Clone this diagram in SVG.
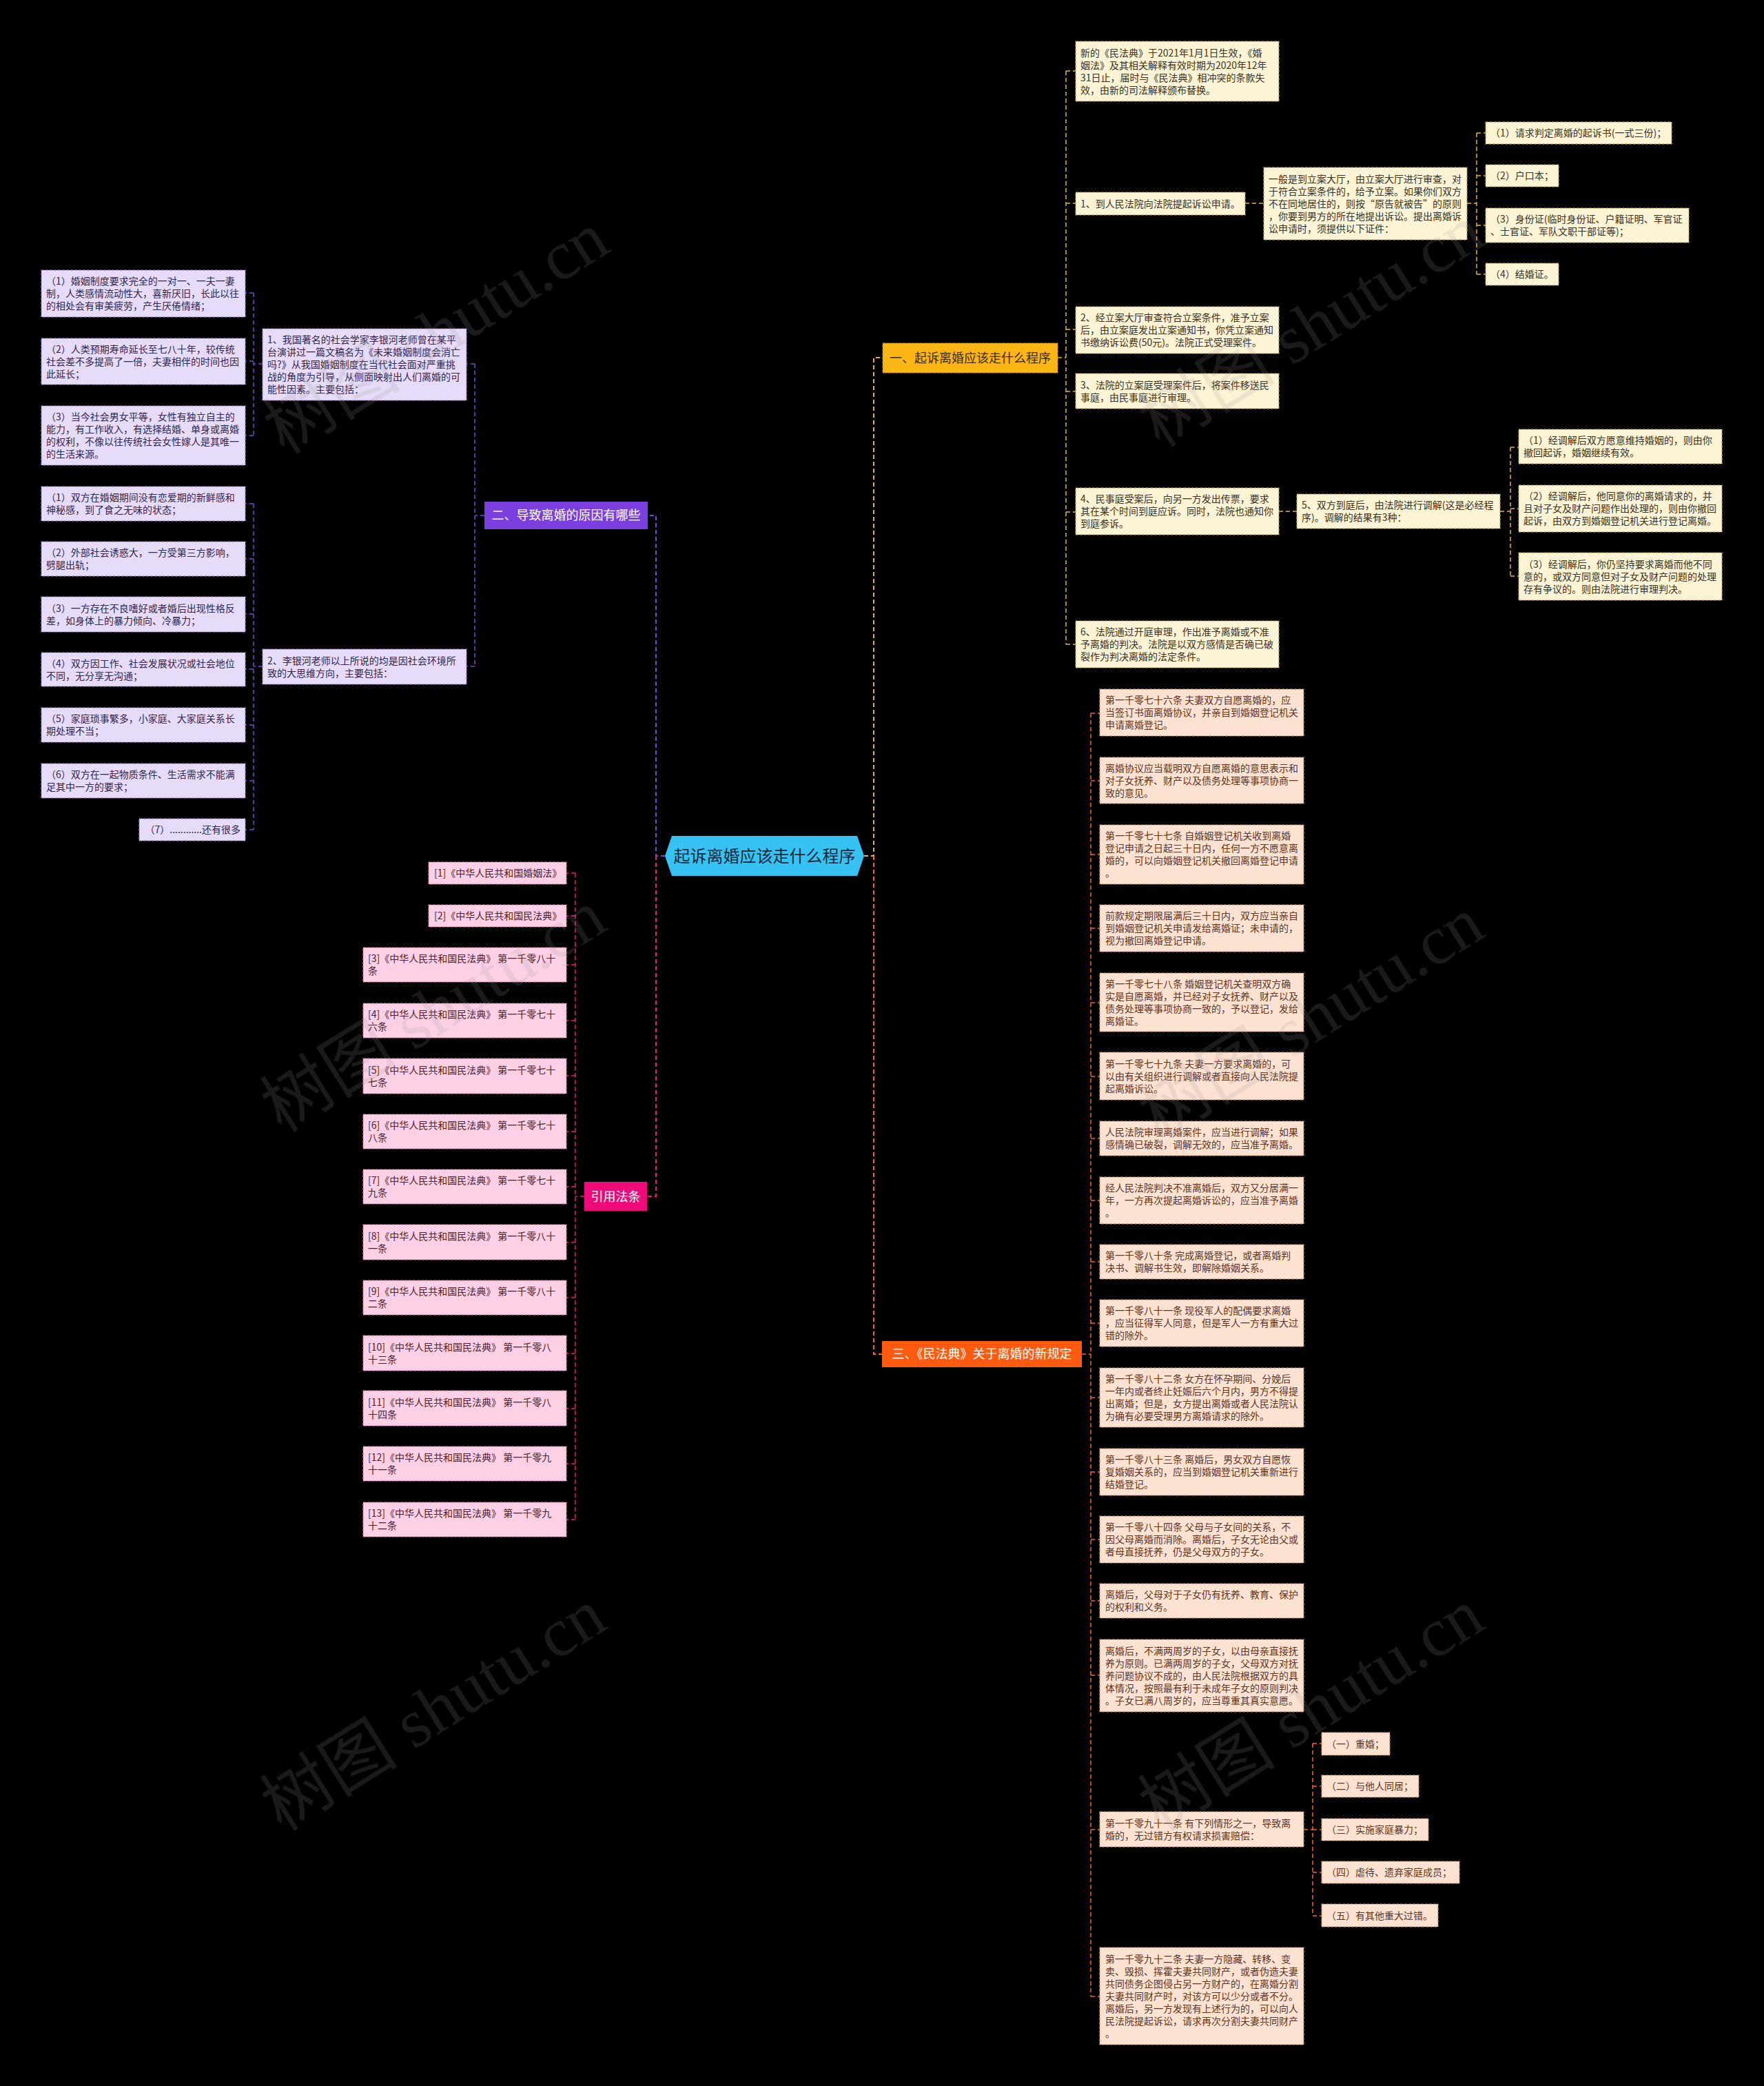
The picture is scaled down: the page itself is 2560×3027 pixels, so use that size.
<svg xmlns="http://www.w3.org/2000/svg" width="2560" height="3027" viewBox="0 0 2560 3027">
<style>
text{font-family:"Noto Sans CJK SC","Noto Sans",sans-serif}
.t{font-size:14px}
.y rect{fill:#fdf3d5;stroke:#b59c5c;stroke-width:1.2;stroke-dasharray:4 2}
.y text{fill:#3a3222}
.p rect{fill:#e6dbf8;stroke:#9a83c8;stroke-width:1.2;stroke-dasharray:4 2}
.p text{fill:#33264f}
.o rect{fill:#fde2d2;stroke:#c98a6a;stroke-width:1.2;stroke-dasharray:4 2}
.o text{fill:#5e3524}
.k rect{fill:#fdd0e5;stroke:#d47aa2;stroke-width:1.2;stroke-dasharray:4 2}
.k text{fill:#4a1f35}
.h text{font-size:18px}
.cn path{fill:none;stroke-width:2;stroke-dasharray:6 4}
.cy{stroke:#e8b53a}
.cp{stroke:#7b46d8}
.co{stroke:#ff6420}
.ck{stroke:#f0167e}
.cc{stroke-width:1.5 !important}
.wm text{font-family:"Liberation Serif","Noto Sans CJK SC",serif;font-size:100px;fill:#9a9a9a;opacity:0.17}
</style>
<rect x="0" y="0" width="2560" height="3027" fill="#000"/>

<g class="cn">
<path class="cy" d="M1254 1242H1268V519H1281"/>
<path class="co" d="M1268 1242V1965H1280"/>
<path class="cp" d="M965 1242H952V748H940"/>
<path class="ck" d="M952 1242V1736H939"/>
<path class="cy cc" d="M1535 519H1547M1547 103V935M1547 103H1561M1547 295H1561M1547 478H1561M1547 568H1561M1547 743H1561M1547 935H1561"/>
<path class="cy cc" d="M1807 295H1834M2129 295H2143M2143 193V398M2143 193H2156M2143 255H2156M2143 327H2156M2143 398H2156"/>
<path class="cy cc" d="M1856 742H1882M2177 742H2192M2192 649V836M2192 649H2204M2192 738H2204M2192 836H2204"/>
<path class="cp cc" d="M703 748H689M689 528V967M689 528H677M689 967H677"/>
<path class="cp cc" d="M381 528H368M368 425V632M368 425H356M368 524H356M368 632H356"/>
<path class="cp cc" d="M381 967H368M368 731V1204M368 731H356M368 811H356M368 891H356M368 971H356M368 1052H356M368 1133H356M368 1204H356"/>
<path class="ck cc" d="M848 1736H835M835 1267V2205M835 1267H822M835 1329H822M835 1400H822M835 1481H822M835 1561H822M835 1642H822M835 1722H822M835 1803H822M835 1883H822M835 1964H822M835 2044H822M835 2124H822M835 2205H822"/>
<path class="co cc" d="M1570 1965H1583M1583 1035V2897M1583 1035H1596M1583 1133H1596M1583 1240H1596M1583 1347H1596M1583 1455H1596M1583 1562H1596M1583 1652H1596M1583 1742H1596M1583 1831H1596M1583 1920H1596M1583 2028H1596M1583 2136H1596M1583 2234H1596M1583 2323H1596M1583 2431H1596M1583 2655H1596M1583 2897H1596"/>
<path class="co cc" d="M1892 2655H1905M1905 2530V2780M1905 2530H1918M1905 2592H1918M1905 2655H1918M1905 2717H1918M1905 2780H1918"/>
</g>

<g id="center">
<polygon points="965,1242 975,1213 1244,1213 1254,1242 1244,1271 975,1271" fill="#36c3f3"/>
<text x="1109.5" y="1250.5" font-size="24" text-anchor="middle" fill="#15283a">起诉离婚应该走什么程序</text>
</g>

<g id="b1" class="h"><rect x="1281" y="498" width="254" height="43" fill="#fbb616" stroke="#c98c00" stroke-dasharray="4 2"/><text x="1408" y="525.5" text-anchor="middle" fill="#3d2a00">一、起诉离婚应该走什么程序</text></g>
<g id="b2" class="h"><rect x="703" y="728" width="237" height="40" fill="#7b3fe0"/><text x="821.5" y="754" text-anchor="middle" fill="#fff">二、导致离婚的原因有哪些</text></g>
<g id="b3" class="h"><rect x="1280" y="1946" width="290" height="38" fill="#ff5b10"/><text x="1425" y="1971" text-anchor="middle" fill="#fff">三、《民法典》关于离婚的新规定</text></g>
<g id="b4" class="h"><rect x="848" y="1715" width="91" height="42" fill="#ef0a7a"/><text x="893.5" y="1742.5" text-anchor="middle" fill="#fff">引用法条</text></g>

<g class="y t">
<g id="a"><rect x="1561" y="60" width="295" height="87"/><text y="81.5"><tspan x="1568">新的《民法典》于2021年1月1日生效，《婚</tspan><tspan x="1568" dy="18">姻法》及其相关解释有效时期为2020年12年</tspan><tspan x="1568" dy="18">31日止，届时与《民法典》相冲突的条款失</tspan><tspan x="1568" dy="18">效，由新的司法解释颁布替换。</tspan></text></g>
<g id="s1"><rect x="1561" y="279" width="246" height="33"/><text x="1568" y="300.5">1、到人民法院向法院提起诉讼申请。</text></g>
<g id="s1a"><rect x="1834" y="243" width="295" height="105"/><text y="264.5"><tspan x="1841">一般是到立案大厅，由立案大厅进行审查，对</tspan><tspan x="1841" dy="18">于符合立案条件的，给予立案。如果你们双方</tspan><tspan x="1841" dy="18">不在同地居住的，则按“原告就被告”的原则</tspan><tspan x="1841" dy="18">，你要到男方的所在地提出诉讼。提出离婚诉</tspan><tspan x="1841" dy="18">讼申请时，须提供以下证件：</tspan></text></g>
<g id="d1"><rect x="2156" y="177" width="270" height="32"/><text x="2163" y="198">（1）请求判定离婚的起诉书(一式三份)；</text></g>
<g id="d2"><rect x="2156" y="239" width="106" height="32"/><text x="2163" y="260">（2）户口本；</text></g>
<g id="d3"><rect x="2156" y="302" width="295" height="50"/><text y="323"><tspan x="2163">（3）身份证(临时身份证、户籍证明、军官证</tspan><tspan x="2163" dy="18">、士官证、军队文职干部证等)；</tspan></text></g>
<g id="d4"><rect x="2156" y="382" width="106" height="32"/><text x="2163" y="403">（4）结婚证。</text></g>
<g id="s2"><rect x="1561" y="445" width="295" height="68"/><text y="466"><tspan x="1568">2、经立案大厅审查符合立案条件，准予立案</tspan><tspan x="1568" dy="18">后，由立案庭发出立案通知书，你凭立案通知</tspan><tspan x="1568" dy="18">书缴纳诉讼费(50元)。法院正式受理案件。</tspan></text></g>
<g id="s3"><rect x="1561" y="542" width="295" height="51"/><text y="563.5"><tspan x="1568">3、法院的立案庭受理案件后，将案件移送民</tspan><tspan x="1568" dy="18">事庭，由民事庭进行审理。</tspan></text></g>
<g id="s4"><rect x="1561" y="708" width="295" height="68"/><text y="729"><tspan x="1568">4、民事庭受案后，向另一方发出传票，要求</tspan><tspan x="1568" dy="18">其在某个时间到庭应诉。同时，法院也通知你</tspan><tspan x="1568" dy="18">到庭参诉。</tspan></text></g>
<g id="s5"><rect x="1882" y="717" width="295" height="50"/><text y="738"><tspan x="1889">5、双方到庭后，由法院进行调解(这是必经程</tspan><tspan x="1889" dy="18">序)。调解的结果有3种：</tspan></text></g>
<g id="i1"><rect x="2204" y="623" width="295" height="50"/><text y="644"><tspan x="2211">（1）经调解后双方愿意维持婚姻的，则由你</tspan><tspan x="2211" dy="18">撤回起诉，婚姻继续有效。</tspan></text></g>
<g id="i2"><rect x="2204" y="704" width="295" height="68"/><text y="725"><tspan x="2211">（2）经调解后，他同意你的离婚请求的，并</tspan><tspan x="2211" dy="18">且对子女及财产问题作出处理的，则由你撤回</tspan><tspan x="2211" dy="18">起诉，由双方到婚姻登记机关进行登记离婚。</tspan></text></g>
<g id="i3"><rect x="2204" y="802" width="295" height="69"/><text y="823.5"><tspan x="2211">（3）经调解后，你仍坚持要求离婚而他不同</tspan><tspan x="2211" dy="18">意的，或双方同意但对子女及财产问题的处理</tspan><tspan x="2211" dy="18">存有争议的。则由法院进行审理判决。</tspan></text></g>
<g id="s6"><rect x="1561" y="901" width="295" height="68"/><text y="922"><tspan x="1568">6、法院通过开庭审理，作出准予离婚或不准</tspan><tspan x="1568" dy="18">予离婚的判决。法院是以双方感情是否确已破</tspan><tspan x="1568" dy="18">裂作为判决离婚的法定条件。</tspan></text></g>
</g>

<g class="p t">
<g id="e1"><rect x="381" y="477" width="296" height="104"/><text y="498"><tspan x="388">1、我国著名的社会学家李银河老师曾在某平</tspan><tspan x="388" dy="18">台演讲过一篇文稿名为《未来婚姻制度会消亡</tspan><tspan x="388" dy="18">吗?》从我国婚姻制度在当代社会面对严重挑</tspan><tspan x="388" dy="18">战的角度为引导，从侧面映射出人们离婚的可</tspan><tspan x="388" dy="18">能性因素。主要包括：</tspan></text></g>
<g id="e2"><rect x="381" y="942" width="296" height="51"/><text y="963.5"><tspan x="388">2、李银河老师以上所说的均是因社会环境所</tspan><tspan x="388" dy="18">致的大思维方向，主要包括：</tspan></text></g>
<g id="p1"><rect x="60" y="392" width="296" height="68"/><text y="413"><tspan x="67">（1）婚姻制度要求完全的一对一、一夫一妻</tspan><tspan x="67" dy="18">制，人类感情流动性大，喜新厌旧，长此以往</tspan><tspan x="67" dy="18">的相处会有审美疲劳，产生厌倦情绪；</tspan></text></g>
<g id="p2"><rect x="60" y="491" width="296" height="67"/><text y="511.5"><tspan x="67">（2）人类预期寿命延长至七八十年，较传统</tspan><tspan x="67" dy="18">社会差不多提高了一倍，夫妻相伴的时间也因</tspan><tspan x="67" dy="18">此延长；</tspan></text></g>
<g id="p3"><rect x="60" y="589" width="296" height="86"/><text y="610"><tspan x="67">（3）当今社会男女平等，女性有独立自主的</tspan><tspan x="67" dy="18">能力，有工作收入，有选择结婚、单身或离婚</tspan><tspan x="67" dy="18">的权利，不像以往传统社会女性嫁人是其唯一</tspan><tspan x="67" dy="18">的生活来源。</tspan></text></g>
<g id="q1"><rect x="60" y="706" width="296" height="50"/><text y="727"><tspan x="67">（1）双方在婚姻期间没有恋爱期的新鲜感和</tspan><tspan x="67" dy="18">神秘感，到了食之无味的状态；</tspan></text></g>
<g id="q2"><rect x="60" y="786" width="296" height="50"/><text y="807"><tspan x="67">（2）外部社会诱惑大，一方受第三方影响，</tspan><tspan x="67" dy="18">劈腿出轨；</tspan></text></g>
<g id="q3"><rect x="60" y="866" width="296" height="51"/><text y="887.5"><tspan x="67">（3）一方存在不良嗜好或者婚后出现性格反</tspan><tspan x="67" dy="18">差，如身体上的暴力倾向、冷暴力；</tspan></text></g>
<g id="q4"><rect x="60" y="947" width="296" height="49"/><text y="967.5"><tspan x="67">（4）双方因工作、社会发展状况或社会地位</tspan><tspan x="67" dy="18">不同，无分享无沟通；</tspan></text></g>
<g id="q5"><rect x="60" y="1027" width="296" height="50"/><text y="1048"><tspan x="67">（5）家庭琐事繁多，小家庭、大家庭关系长</tspan><tspan x="67" dy="18">期处理不当；</tspan></text></g>
<g id="q6"><rect x="60" y="1108" width="296" height="50"/><text y="1129"><tspan x="67">（6）双方在一起物质条件、生活需求不能满</tspan><tspan x="67" dy="18">足其中一方的要求；</tspan></text></g>
<g id="q7"><rect x="202" y="1188" width="154" height="32"/><text x="349" y="1209" text-anchor="end">（7）............还有很多</text></g>
</g>

<g class="k t">
<g id="l1"><rect x="622" y="1251" width="200" height="32"/><text x="630" y="1272">[1]《中华人民共和国婚姻法》</text></g>
<g id="l2"><rect x="622" y="1313" width="200" height="32"/><text x="630" y="1334">[2]《中华人民共和国民法典》</text></g>
<g id="l3"><rect x="527" y="1375" width="295" height="50"/><text y="1396"><tspan x="534">[3]《中华人民共和国民法典》 第一千零八十</tspan><tspan x="534" dy="18">条</tspan></text></g>
<g id="l4"><rect x="527" y="1456" width="295" height="50"/><text y="1477"><tspan x="534">[4]《中华人民共和国民法典》 第一千零七十</tspan><tspan x="534" dy="18">六条</tspan></text></g>
<g id="l5"><rect x="527" y="1536" width="295" height="51"/><text y="1557.5"><tspan x="534">[5]《中华人民共和国民法典》 第一千零七十</tspan><tspan x="534" dy="18">七条</tspan></text></g>
<g id="l6"><rect x="527" y="1617" width="295" height="50"/><text y="1638"><tspan x="534">[6]《中华人民共和国民法典》 第一千零七十</tspan><tspan x="534" dy="18">八条</tspan></text></g>
<g id="l7"><rect x="527" y="1697" width="295" height="50"/><text y="1718"><tspan x="534">[7]《中华人民共和国民法典》 第一千零七十</tspan><tspan x="534" dy="18">九条</tspan></text></g>
<g id="l8"><rect x="527" y="1777" width="295" height="51"/><text y="1798.5"><tspan x="534">[8]《中华人民共和国民法典》 第一千零八十</tspan><tspan x="534" dy="18">一条</tspan></text></g>
<g id="l9"><rect x="527" y="1858" width="295" height="50"/><text y="1879"><tspan x="534">[9]《中华人民共和国民法典》 第一千零八十</tspan><tspan x="534" dy="18">二条</tspan></text></g>
<g id="l10"><rect x="527" y="1938" width="295" height="51"/><text y="1959.5"><tspan x="534">[10]《中华人民共和国民法典》 第一千零八</tspan><tspan x="534" dy="18">十三条</tspan></text></g>
<g id="l11"><rect x="527" y="2018" width="295" height="51"/><text y="2039.5"><tspan x="534">[11]《中华人民共和国民法典》 第一千零八</tspan><tspan x="534" dy="18">十四条</tspan></text></g>
<g id="l12"><rect x="527" y="2099" width="295" height="50"/><text y="2120"><tspan x="534">[12]《中华人民共和国民法典》 第一千零九</tspan><tspan x="534" dy="18">十一条</tspan></text></g>
<g id="l13"><rect x="527" y="2180" width="295" height="50"/><text y="2201"><tspan x="534">[13]《中华人民共和国民法典》 第一千零九</tspan><tspan x="534" dy="18">十二条</tspan></text></g>
</g>

<g class="o t">
<g id="r1"><rect x="1596" y="1000" width="296" height="68"/><text y="1021"><tspan x="1604">第一千零七十六条 夫妻双方自愿离婚的，应</tspan><tspan x="1604" dy="18">当签订书面离婚协议，并亲自到婚姻登记机关</tspan><tspan x="1604" dy="18">申请离婚登记。</tspan></text></g>
<g id="r2"><rect x="1596" y="1099" width="296" height="67"/><text y="1119.5"><tspan x="1604">离婚协议应当载明双方自愿离婚的意思表示和</tspan><tspan x="1604" dy="18">对子女抚养、财产以及债务处理等事项协商一</tspan><tspan x="1604" dy="18">致的意见。</tspan></text></g>
<g id="r3"><rect x="1596" y="1197" width="296" height="86"/><text y="1218"><tspan x="1604">第一千零七十七条 自婚姻登记机关收到离婚</tspan><tspan x="1604" dy="18">登记申请之日起三十日内，任何一方不愿意离</tspan><tspan x="1604" dy="18">婚的，可以向婚姻登记机关撤回离婚登记申请</tspan><tspan x="1604" dy="18">。</tspan></text></g>
<g id="r4"><rect x="1596" y="1313" width="296" height="68"/><text y="1334"><tspan x="1604">前款规定期限届满后三十日内，双方应当亲自</tspan><tspan x="1604" dy="18">到婚姻登记机关申请发给离婚证；未申请的，</tspan><tspan x="1604" dy="18">视为撤回离婚登记申请。</tspan></text></g>
<g id="r5"><rect x="1596" y="1412" width="296" height="85"/><text y="1432.5"><tspan x="1604">第一千零七十八条 婚姻登记机关查明双方确</tspan><tspan x="1604" dy="18">实是自愿离婚，并已经对子女抚养、财产以及</tspan><tspan x="1604" dy="18">债务处理等事项协商一致的，予以登记，发给</tspan><tspan x="1604" dy="18">离婚证。</tspan></text></g>
<g id="r6"><rect x="1596" y="1527" width="296" height="69"/><text y="1548.5"><tspan x="1604">第一千零七十九条 夫妻一方要求离婚的，可</tspan><tspan x="1604" dy="18">以由有关组织进行调解或者直接向人民法院提</tspan><tspan x="1604" dy="18">起离婚诉讼。</tspan></text></g>
<g id="r7"><rect x="1596" y="1627" width="296" height="50"/><text y="1648"><tspan x="1604">人民法院审理离婚案件，应当进行调解；如果</tspan><tspan x="1604" dy="18">感情确已破裂，调解无效的，应当准予离婚。</tspan></text></g>
<g id="r8"><rect x="1596" y="1708" width="296" height="68"/><text y="1729"><tspan x="1604">经人民法院判决不准离婚后，双方又分居满一</tspan><tspan x="1604" dy="18">年，一方再次提起离婚诉讼的，应当准予离婚</tspan><tspan x="1604" dy="18">。</tspan></text></g>
<g id="r9"><rect x="1596" y="1806" width="296" height="50"/><text y="1827"><tspan x="1604">第一千零八十条 完成离婚登记，或者离婚判</tspan><tspan x="1604" dy="18">决书、调解书生效，即解除婚姻关系。</tspan></text></g>
<g id="r10"><rect x="1596" y="1886" width="296" height="68"/><text y="1907"><tspan x="1604">第一千零八十一条 现役军人的配偶要求离婚</tspan><tspan x="1604" dy="18">，应当征得军人同意，但是军人一方有重大过</tspan><tspan x="1604" dy="18">错的除外。</tspan></text></g>
<g id="r11"><rect x="1596" y="1985" width="296" height="86"/><text y="2006"><tspan x="1604">第一千零八十二条 女方在怀孕期间、分娩后</tspan><tspan x="1604" dy="18">一年内或者终止妊娠后六个月内，男方不得提</tspan><tspan x="1604" dy="18">出离婚；但是，女方提出离婚或者人民法院认</tspan><tspan x="1604" dy="18">为确有必要受理男方离婚请求的除外。</tspan></text></g>
<g id="r12"><rect x="1596" y="2102" width="296" height="68"/><text y="2123"><tspan x="1604">第一千零八十三条 离婚后，男女双方自愿恢</tspan><tspan x="1604" dy="18">复婚姻关系的，应当到婚姻登记机关重新进行</tspan><tspan x="1604" dy="18">结婚登记。</tspan></text></g>
<g id="r13"><rect x="1596" y="2200" width="296" height="68"/><text y="2221"><tspan x="1604">第一千零八十四条 父母与子女间的关系，不</tspan><tspan x="1604" dy="18">因父母离婚而消除。离婚后，子女无论由父或</tspan><tspan x="1604" dy="18">者母直接抚养，仍是父母双方的子女。</tspan></text></g>
<g id="r14"><rect x="1596" y="2298" width="296" height="50"/><text y="2319"><tspan x="1604">离婚后，父母对于子女仍有抚养、教育、保护</tspan><tspan x="1604" dy="18">的权利和义务。</tspan></text></g>
<g id="r15"><rect x="1596" y="2379" width="296" height="105"/><text y="2400.5"><tspan x="1604">离婚后，不满两周岁的子女，以由母亲直接抚</tspan><tspan x="1604" dy="18">养为原则。已满两周岁的子女，父母双方对抚</tspan><tspan x="1604" dy="18">养问题协议不成的，由人民法院根据双方的具</tspan><tspan x="1604" dy="18">体情况，按照最有利于未成年子女的原则判决</tspan><tspan x="1604" dy="18">。子女已满八周岁的，应当尊重其真实意愿。</tspan></text></g>
<g id="r16"><rect x="1596" y="2629" width="296" height="51"/><text y="2650.5"><tspan x="1604">第一千零九十一条 有下列情形之一，导致离</tspan><tspan x="1604" dy="18">婚的，无过错方有权请求损害赔偿：</tspan></text></g>
<g id="t1"><rect x="1918" y="2514" width="99" height="33"/><text x="1925" y="2535.5">（一）重婚；</text></g>
<g id="t2"><rect x="1918" y="2576" width="141" height="32"/><text x="1925" y="2597">（二）与他人同居；</text></g>
<g id="t3"><rect x="1918" y="2639" width="155" height="32"/><text x="1925" y="2660">（三）实施家庭暴力；</text></g>
<g id="t4"><rect x="1918" y="2701" width="200" height="32"/><text x="1925" y="2722">（四）虐待、遗弃家庭成员；</text></g>
<g id="t5"><rect x="1918" y="2763" width="169" height="33"/><text x="1925" y="2784.5">（五）有其他重大过错。</text></g>
<g id="r17"><rect x="1596" y="2826" width="296" height="141"/><text y="2847.5"><tspan x="1604">第一千零九十二条 夫妻一方隐藏、转移、变</tspan><tspan x="1604" dy="18">卖、毁损、挥霍夫妻共同财产，或者伪造夫妻</tspan><tspan x="1604" dy="18">共同债务企图侵占另一方财产的，在离婚分割</tspan><tspan x="1604" dy="18">夫妻共同财产时，对该方可以少分或者不分。</tspan><tspan x="1604" dy="18">离婚后，另一方发现有上述行为的，可以向人</tspan><tspan x="1604" dy="18">民法院提起诉讼，请求再次分割夫妻共同财产</tspan><tspan x="1604" dy="18">。</tspan></text></g>
</g>

<g class="wm">
<text transform="translate(651,512) rotate(-32)" text-anchor="middle">树图 shutu.cn</text>
<text transform="translate(1921,502) rotate(-32)" text-anchor="middle">树图 shutu.cn</text>
<text transform="translate(647,1496) rotate(-32)" text-anchor="middle">树图 shutu.cn</text>
<text transform="translate(1921,1506) rotate(-32)" text-anchor="middle">树图 shutu.cn</text>
<text transform="translate(647,2510) rotate(-32)" text-anchor="middle">树图 shutu.cn</text>
<text transform="translate(1921,2510) rotate(-32)" text-anchor="middle">树图 shutu.cn</text>
</g>
</svg>
